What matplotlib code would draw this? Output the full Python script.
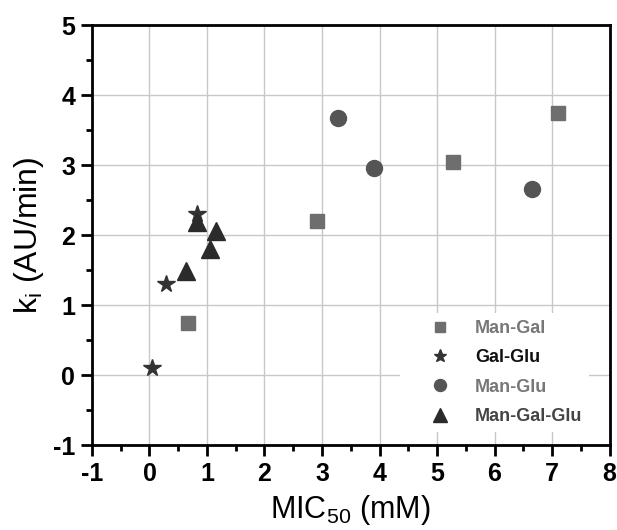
import matplotlib
matplotlib.use("Agg")
import matplotlib.pyplot as plt
from matplotlib.ticker import MultipleLocator

plt.rcParams["font.family"] = ["Liberation Sans", "DejaVu Sans"]
plt.rcParams["mathtext.default"] = "regular"
plt.rcParams["axes.unicode_minus"] = False

# Man-Gal
man_gal_x = [0.67, 2.91, 5.27, 7.11]
man_gal_y = [0.75, 2.20, 3.05, 3.75]
# Gal-Glu
gal_glu_x = [0.05, 0.29, 0.82]
gal_glu_y = [0.10, 1.31, 2.31]
# Man-Glu
man_glu_x = [3.27, 3.91, 6.65]
man_glu_y = [3.68, 2.96, 2.66]
# Man-Gal-Glu
man_gal_glu_x = [0.63, 0.83, 1.06, 1.16]
man_gal_glu_y = [1.49, 2.19, 1.80, 2.06]

fig = plt.figure(figsize=(6.17, 5.30), dpi=100)
ax = fig.add_axes([0.149, 0.160, 0.839, 0.792])

ax.plot(man_gal_x, man_gal_y, "s", color="#6e6e6e", ms=9.5, label="Man-Gal")
ax.plot(gal_glu_x, gal_glu_y, "*", color="#333333", ms=13, label="Gal-Glu")
ax.plot(man_glu_x, man_glu_y, "o", color="#555555", ms=11.5, label="Man-Glu")
ax.plot(man_gal_glu_x, man_gal_glu_y, "^", color="#2b2b2b", ms=13, label="Man-Gal-Glu")

ax.set_xlim(-1, 8)
ax.set_ylim(-1, 5)
ax.xaxis.set_major_locator(MultipleLocator(1))
ax.xaxis.set_minor_locator(MultipleLocator(0.5))
ax.yaxis.set_major_locator(MultipleLocator(1))
ax.yaxis.set_minor_locator(MultipleLocator(0.5))
ax.grid(True, which="major", color="#c8c8c8", linewidth=1.0)
ax.set_axisbelow(True)

for s in ax.spines.values():
    s.set_linewidth(2)
ax.tick_params(which="major", direction="out", length=8, width=2,
               labelsize=18, pad=4)
ax.tick_params(which="minor", direction="out", length=4, width=2)
for lbl in ax.get_xticklabels() + ax.get_yticklabels():
    lbl.set_fontweight("bold")

ax.set_xlabel("MIC$_{50}$ (mM)", fontsize=22, labelpad=5)
ax.set_ylabel("k$_{i}$ (AU/min)", fontsize=23, labelpad=5)

leg = ax.legend(loc="upper left", bbox_to_anchor=(0.595, 0.315),
                borderaxespad=0, frameon=True, facecolor="white",
                edgecolor="none", framealpha=1, fancybox=False,
                markerscale=0.75, prop={"weight": "bold", "size": 13},
                labelspacing=0.68, handlelength=3.6, handletextpad=0.15,
                borderpad=0.4)
text_colors = ["#777777", "#111111", "#777777", "#444444"]
for t, c in zip(leg.get_texts(), text_colors):
    t.set_color(c)

fig.savefig("out.png", dpi=100)
